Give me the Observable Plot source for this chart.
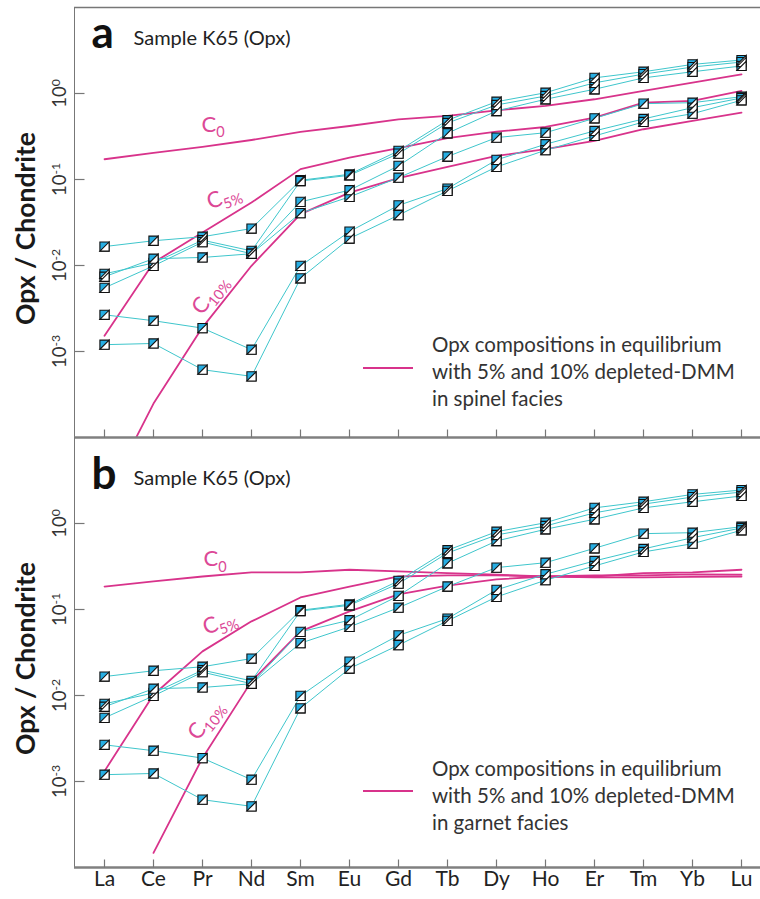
<!DOCTYPE html>
<html>
<head>
<meta charset="utf-8">
<script src="https://cdn.jsdelivr.net/npm/d3@7"></script>
<script src="https://cdn.jsdelivr.net/npm/@observablehq/plot@0.6"></script>
<style>
  body { margin: 0; background: #fff; font-family: Lato, "Open Sans", sans-serif; }
  #wrap { position: relative; width: 760px; height: 899px; overflow: hidden; background: #fff; }
  .panel { position: absolute; left: 0; }
  .legtext { position: absolute; left: 432px; font-size: 20.5px; line-height: 27px; color: #333; white-space: nowrap; }
  .legline { position: absolute; left: 363px; width: 50px; height: 1.6px; background: #d8338b; }
</style>
</head>
<body>
<div id="wrap"></div>
<script>
// ---------- data ----------
const ree = ["La","Ce","Pr","Nd","Sm","Eu","Gd","Tb","Dy","Ho","Er","Tm","Yb","Lu"];
const sampleNames = ["opx1","opx2","opx3","opx4","opx5","opx6"];
const opx1 = [0.0166, 0.0194, 0.0216, 0.0269, 0.098, 0.115, 0.215, 0.489, 0.803, 1.02, 1.52, 1.79, 2.18, 2.45];
const opx2 = [0.0080, 0.0107, 0.0197, 0.0148, 0.096, 0.112, 0.200, 0.454, 0.735, 0.935, 1.33, 1.68, 2.03, 2.32];
const opx3 = [0.0074, 0.0120, 0.0124, 0.0137, 0.055, 0.0751, 0.144, 0.345, 0.626, 0.857, 1.12, 1.52, 1.79, 2.09];
const opx4 = [0.0055, 0.0099, 0.0187, 0.0137, 0.0406, 0.0628, 0.105, 0.185, 0.307, 0.350, 0.515, 0.762, 0.782, 0.918];
const opx5 = [0.00267, 0.00228, 0.00187, 0.00105, 0.0099, 0.0248, 0.050, 0.0784, 0.169, 0.257, 0.367, 0.506, 0.684, 0.887];
const opx6 = [0.0012, 0.00124, 0.000615, 0.000514, 0.0071, 0.0206, 0.0385, 0.0738, 0.140, 0.219, 0.321, 0.467, 0.582, 0.834];

const spinelC0  = [0.172, 0.204, 0.239, 0.288, 0.357, 0.419, 0.501, 0.548, 0.638, 0.716, 0.857, 1.07, 1.34, 1.67];
const spinelC5  = [0.00152, 0.0108, 0.0242, 0.0539, 0.132, 0.180, 0.231, 0.302, 0.360, 0.408, 0.524, 0.782, 0.819, 1.07];
const spinelC10 = [0.000019, 0.000248, 0.00191, 0.00993, 0.0395, 0.0705, 0.1035, 0.140, 0.188, 0.225, 0.281, 0.384, 0.480, 0.598];

const garnetC0  = [0.185, 0.212, 0.242, 0.270, 0.270, 0.290, 0.277, 0.265, 0.254, 0.242, 0.242, 0.265, 0.270, 0.290];
const garnetC5  = [0.00132, 0.0102, 0.0326, 0.0728, 0.138, 0.185, 0.242, 0.249, 0.249, 0.242, 0.249, 0.249, 0.256, 0.254];
const garnetC10 = [null, 0.000148, 0.00188, 0.0146, 0.0557, 0.095, 0.150, 0.190, 0.224, 0.242, 0.236, 0.236, 0.239, 0.242];

const yTickValues = [1e-3, 1e-2, 1e-1, 1];

// ---------- helpers ----------
const cyan = "#3fc6cc", pink = "#d8338b", blue = "#27aee3", axisGray = "#777";
const opxSeries = [opx1, opx2, opx3, opx4, opx5, opx6];
const opxRows = opxSeries.flatMap((arr, s) => arr.map((v, i) => ({sample: sampleNames[s], el: ree[i], v})));
function modelRows(c0, c5, c10) {
  return [["C0", c0], ["C5", c5], ["C10", c10]]
    .flatMap(([m, arr]) => arr.map((v, i) => ({model: m, el: ree[i], v})));
}
const sq = {draw(c, s) { const h = Math.sqrt(s / Math.PI); c.moveTo(-h, -h); c.lineTo(h, -h); c.lineTo(h, h); c.lineTo(-h, h); c.closePath(); }};
const half = {draw(c, s) { const h = Math.sqrt(s / Math.PI); c.moveTo(h, -h); c.lineTo(h, h); c.lineTo(-h, h); c.closePath(); }};
const tickR = {draw(c, s) { const h = Math.sqrt(s / Math.PI); c.moveTo(0, 0); c.lineTo(h, 0); }};
const tickU = {draw(c, s) { const h = Math.sqrt(s / Math.PI); c.moveTo(0, 0); c.lineTo(0, -h); }};

// turn "10^-1" into 10 + superscript, "C_5%" into C + subscript
function scripts(svg) {
  d3.select(svg).selectAll("text").each(function() {
    const s = this.textContent;
    let sep = null, dy = null;
    if (s.includes("^")) { sep = "^"; dy = "-0.55em"; }
    else if (s.includes("_")) { sep = "_"; dy = "0.35em"; }
    if (!sep) return;
    const parts = s.split(sep);
    this.textContent = parts[0];
    d3.select(this).append("tspan").attr("dy", dy).attr("font-size", "0.66em").text(parts[1]);
  });
}

function panel(opts) {
  const {letter, models, labels, height, marginTop, marginBottom, xLabels, letterDy, sampleDy} = opts;
  const marks = [
    Plot.line(models, {x: "el", y: "v", z: "model", stroke: pink, strokeWidth: 1.8, clip: true}),
    Plot.line(opxRows, {x: "el", y: "v", z: "sample", stroke: cyan, strokeWidth: 1}),
    Plot.dot(opxRows, {x: "el", y: "v", r: 4.6, symbol: sq, fill: blue, stroke: "#111", strokeWidth: 1.1}),
    Plot.dot(opxRows, {x: "el", y: "v", r: 4.6, symbol: half, fill: "#fff", stroke: "#111", strokeWidth: 1.1}),
    Plot.ruleY([1e-4], {stroke: "#808080", strokeWidth: 2.6}),
    Plot.dot(ree, {x: d => d, frameAnchor: "bottom", r: 8, symbol: tickU, fill: "none", stroke: axisGray, strokeWidth: 1.2}),
    Plot.dot(yTickValues, {y: d => d, frameAnchor: "left", r: 10, symbol: tickR, fill: "none", stroke: axisGray, strokeWidth: 1.2}),
    Plot.text(yTickValues, {y: d => d, text: d => "10^" + Math.round(Math.log10(d)), frameAnchor: "left", textAnchor: "middle", dx: -14, rotate: -90, fontSize: 18.5, fill: "#333"}),
    Plot.text([{v: Math.pow(10, -1.5)}], {y: "v", text: () => "Opx / Chondrite", frameAnchor: "left", textAnchor: "middle", dx: -48, dy: 6, rotate: -90, fontSize: 26.5, fontWeight: "bold", fill: "#1a1a1a"}),
    Plot.text([letter], {frameAnchor: "top-left", dx: 17, dy: letterDy, textAnchor: "start", lineAnchor: "bottom", fontSize: 44, fontWeight: "bold", fill: "#111"}),
    Plot.text(["Sample K65 (Opx)"], {frameAnchor: "top-left", dx: 59, dy: sampleDy, textAnchor: "start", lineAnchor: "middle", fontSize: 20, fill: "#222"})
  ];
  for (const L of labels) {
    marks.push(Plot.text([L], {x: "el", y: "v", text: "t", dx: L.dx, textAnchor: "start", rotate: L.rot, fontSize: 22, fill: "#dc4896"}));
  }
  if (opts.top) marks.push(Plot.ruleY([10], {stroke: axisGray, strokeWidth: 1.4}));
  if (xLabels) marks.push(Plot.text(ree, {x: d => d, frameAnchor: "bottom", textAnchor: "middle", dy: 18, fontSize: 21, fill: "#222"}));
  const svg = Plot.plot({
    width: 760, height, marginLeft: 74, marginRight: 0, marginTop, marginBottom,
    style: {background: "transparent", color: axisGray, fontFamily: "Lato, 'Open Sans', sans-serif"},
    x: {type: "point", domain: ree, range: [100, 744], padding: 0, axis: null},
    y: {type: "log", domain: [1e-4, 10], axis: "left", ticks: [], tickSize: 0, line: true, label: null},
    marks
  });
  scripts(svg);
  return svg;
}

const wrap = document.getElementById("wrap");

const pa = panel({
  letter: "a", top: true, height: 440, marginTop: 7, marginBottom: 3, xLabels: false, letterDy: 40, sampleDy: 31,
  models: modelRows(spinelC0, spinelC5, spinelC10),
  labels: [
    {el: "Pr", v: 0.436, t: "C_0", dx: -1, rot: 0},
    {el: "Pr", v: 0.0535, t: "C_5%", dx: 5, rot: -20},
    {el: "Pr", v: 0.0029, t: "C_10%", dx: -6, rot: -52}
  ]
});
pa.classList.add("panel"); pa.style.top = "0px";
wrap.appendChild(pa);

const pb = panel({
  letter: "b", top: false, height: 462, marginTop: 0, marginBottom: 32, xLabels: true, letterDy: 51, sampleDy: 41,
  models: modelRows(garnetC0, garnetC5, garnetC10),
  labels: [
    {el: "Pr", v: 0.382, t: "C_0", dx: 1, rot: 0},
    {el: "Pr", v: 0.0603, t: "C_5%", dx: 1, rot: -20},
    {el: "Pr", v: 0.00327, t: "C_10%", dx: -10, rot: -52}
  ]
});
pb.classList.add("panel"); pb.style.top = "437px";
wrap.appendChild(pb);

// legends
function legend(top, lineTop, facies) {
  const t = document.createElement("div");
  t.className = "legtext"; t.style.top = top + "px";
  t.innerHTML = "Opx compositions in equilibrium<br>with 5% and 10% depleted-DMM<br>in " + facies + " facies";
  wrap.appendChild(t);
  const l = document.createElement("div");
  l.className = "legline"; l.style.top = lineTop + "px";
  wrap.appendChild(l);
}
legend(330.5, 367.2, "spinel");
legend(754.5, 790.2, "garnet");
</script>
</body>
</html>
